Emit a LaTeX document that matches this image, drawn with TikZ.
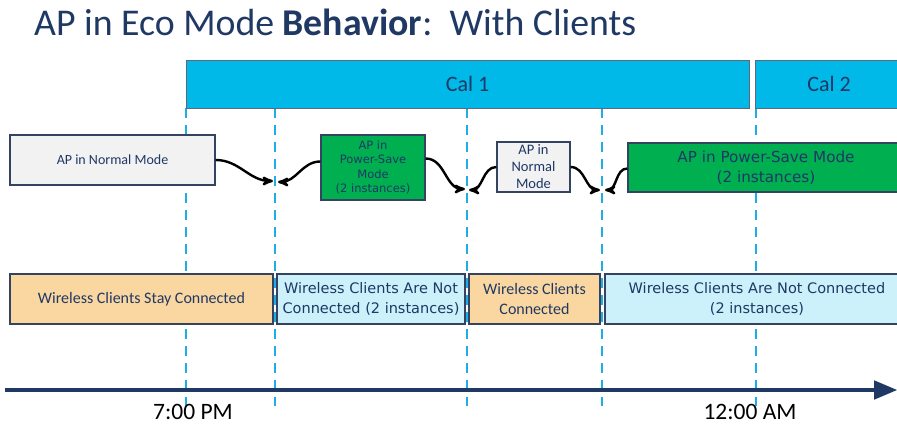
\documentclass[tikz,border=0pt]{standalone}
\usepackage{fontspec}
\setmainfont{Carlito}
\newfontfamily\verd{DejaVu Sans}
\usetikzlibrary{arrows}
\definecolor{navy}{HTML}{1F3864}
\definecolor{edgeblue}{HTML}{34435F}
\definecolor{calblue}{HTML}{00B9E8}
\definecolor{tickblue}{HTML}{1FADE6}
\definecolor{greybox}{HTML}{F2F2F2}
\definecolor{savegreen}{HTML}{00B050}
\definecolor{stayorange}{HTML}{FAD7A0}
\definecolor{goneblue}{HTML}{CCF1FB}

\begin{document}
\begin{tikzpicture}[x=1pt,y=-1pt,>=stealth',
    box/.style = {rectangle,
                  draw = edgeblue,
                  line width = 1.3pt,
                  text = navy,
                  align = center,
                  inner sep = 1pt},
    calbar/.style = {rectangle,
                     draw = edgeblue!80,
                     line width = 0.8pt,
                     fill = calblue,
                     text = navy,
                     font = \fontsize{22}{24}\selectfont,
                     minimum height = 48pt},
    normalbox/.style = {box, fill = greybox},
    savebox/.style = {box, fill = savegreen},
    staybox/.style = {box, fill = stayorange,
                      minimum height = 50pt},
    gonebox/.style = {box, fill = goneblue,
                      minimum height = 50pt,
                      font = \verd\fontsize{14.5}{20}\selectfont},
    tickline/.style = {tickblue, line width = 1.6pt,
                       dash pattern = on 10pt off 7pt},
    wavy/.style = {->, black, line width = 2.4pt},
    timeaxis/.style = {-triangle 45, navy, line width = 4.5pt},
    timelabel/.style = {text = black,
                        font = \fontsize{23.5}{26}\selectfont}
    ]

    \useasboundingbox (0,0) rectangle (897,425);

    \node[anchor = base west, text = navy, inner sep = 0pt] (title) at (34,36)
        {\fontsize{37.8}{40}\selectfont AP in Eco Mode \textbf{Behavior}:\ \ With Clients};

    % time marks behind the boxes
    \foreach \x in {186,275,467,602,756}
        \draw[tickline] (\x,108) -- (\x,406);

    \node[calbar, minimum width = 563pt] (cal1) at (467.5,84) {Cal 1};
    \node[calbar, minimum width = 148pt] (cal2) at (829,84) {Cal 2};

    % AP modes
    \node[normalbox,
          minimum width = 205pt,
          minimum height = 50pt,
          font = \fontsize{14}{15}\selectfont
          ] (nrm1) at (112.5,160) {AP in Normal Mode};

    \node[savebox,
          minimum width = 104pt,
          minimum height = 65pt,
          font = \verd\fontsize{11.5}{14.5}\selectfont
          ] (psv1) at (373,167.5) {AP in\\Power-Save\\Mode\\(2 instances)};

    \node[normalbox,
          minimum width = 73pt,
          minimum height = 50pt,
          font = \fontsize{14.5}{17}\selectfont
          ] (nrm2) at (533.5,167) {AP in\\Normal\\Mode};

    \node[savebox,
          minimum width = 276pt,
          minimum height = 49pt,
          font = \verd\fontsize{15.2}{20}\selectfont
          ] (psv2) at (766,167.5) {AP in Power-Save Mode\\(2 instances)};

    % client state
    \node[staybox,
          minimum width = 263pt,
          font = \fontsize{16}{20}\selectfont
          ] (cl1) at (141.5,299) {Wireless Clients Stay Connected};

    \node[gonebox, minimum width = 188pt] (cl2) at (371,299)
        {Wireless Clients Are Not\\Connected (2 instances)};

    \node[staybox,
          minimum width = 131pt,
          font = \fontsize{16}{20}\selectfont
          ] (cl3) at (534.5,299) {Wireless Clients\\Connected};

    \node[gonebox, minimum width = 304pt] (cl4) at (757,299)
        {Wireless Clients Are Not Connected\\(2 instances)};

    % arrow ends on the time marks
    \coordinate (d1a) at (273,181);
    \coordinate (d1b) at (278,182);
    \coordinate (d2a) at (465,189);
    \coordinate (d2b) at (469,190);
    \coordinate (d3a) at (600,190);
    \coordinate (d3b) at (605,190);

    \path[wavy]
    (nrm1.east) edge [out=0,in=180] (d1a)
    ([yshift=6pt]psv1.west) edge [out=180,in=0] (d1b)
    ([yshift=9pt]psv1.east) edge [out=0,in=180] (d2a)
    (nrm2.west) edge [out=180,in=0] (d2b)
    (nrm2.east) edge [out=0,in=180] (d3a)
    ([yshift=-1pt]psv2.west) edge [out=180,in=0] (d3b);

    % time axis
    \coordinate (axstart) at (5,390);
    \coordinate (axend) at (897,390);
    \draw[timeaxis] (axstart) -- (axend);

    \node[timelabel] (pm7) at (193,412) {7:00 PM};
    \node[timelabel] (am12) at (750,412) {12:00 AM};

\end{tikzpicture}
\end{document}
